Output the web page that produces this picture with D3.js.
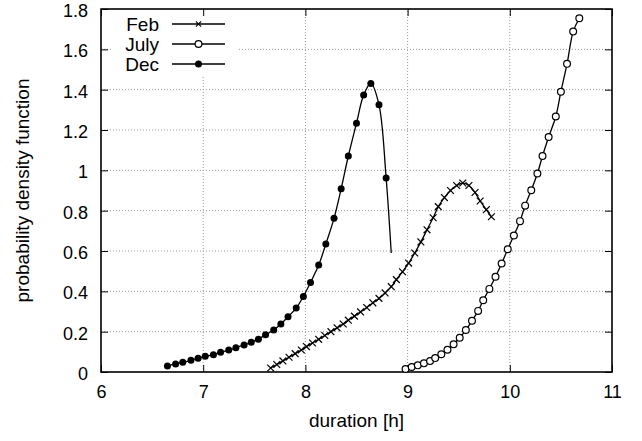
<!DOCTYPE html>
<html>
<head>
<meta charset="utf-8">
<script src="https://cdn.jsdelivr.net/npm/d3@7"></script>
<style>
  body { margin: 0; background: #fff; }
  svg { display: block; font-family: "Liberation Sans", Arial, sans-serif; }
</style>
</head>
<body>
<div id="chart"></div>
<script>
// tick values
var xTicks = [6, 7, 8, 9, 10, 11];
var yTicks = [0, 0.2, 0.4, 0.6, 0.8, 1, 1.2, 1.4, 1.6, 1.8];

// series names (legend order)
var seriesNames = ["Feb", "July", "Dec"];

// Feb (crosses)
var febH = [7.66, 7.72, 7.78, 7.84, 7.90, 7.96, 8.01, 8.07, 8.13, 8.19, 8.25, 8.31, 8.37, 8.42, 8.48, 8.54, 8.60, 8.66, 8.72,
            8.78, 8.84, 8.89, 8.95, 9.01, 9.07, 9.13, 9.19, 9.25, 9.30, 9.36, 9.42, 9.48, 9.54, 9.60, 9.66, 9.71, 9.77, 9.82];
var febV = [0.020, 0.037, 0.055, 0.073, 0.091, 0.109, 0.126, 0.144, 0.162, 0.181, 0.200, 0.219, 0.238, 0.257, 0.277, 0.298, 0.320, 0.343, 0.365,
            0.392, 0.423, 0.458, 0.497, 0.540, 0.590, 0.645, 0.705, 0.765, 0.820, 0.865, 0.900, 0.925, 0.937, 0.925, 0.890, 0.848, 0.805, 0.770];

// July (open circles)
var julH = [8.98, 9.04, 9.10, 9.16, 9.22, 9.27, 9.33, 9.39, 9.45, 9.51, 9.57, 9.63, 9.69, 9.74, 9.80,
            9.86, 9.92, 9.98, 10.04, 10.10, 10.15, 10.21, 10.27, 10.32, 10.38, 10.45, 10.50, 10.56, 10.62, 10.68];
var julV = [0.015, 0.025, 0.033, 0.043, 0.054, 0.069, 0.088, 0.110, 0.137, 0.170, 0.208, 0.254, 0.303, 0.356, 0.412,
            0.472, 0.538, 0.609, 0.677, 0.748, 0.825, 0.901, 0.984, 1.071, 1.165, 1.267, 1.390, 1.528, 1.688, 1.754];

// Dec (filled circles) + line tail without marker
var decH = [6.65, 6.73, 6.80, 6.88, 6.95, 7.02, 7.10, 7.17, 7.25, 7.32, 7.40, 7.47, 7.54, 7.61, 7.69,
            7.76, 7.83, 7.91, 7.98, 8.05, 8.13, 8.20, 8.28, 8.35, 8.42, 8.50, 8.57, 8.64, 8.72, 8.79];
var decV = [0.030, 0.040, 0.048, 0.058, 0.068, 0.078, 0.086, 0.098, 0.109, 0.120, 0.134, 0.147, 0.163, 0.185, 0.208,
            0.238, 0.274, 0.317, 0.375, 0.444, 0.530, 0.635, 0.762, 0.909, 1.071, 1.234, 1.373, 1.431, 1.325, 0.962];
var decTailH = [8.84];
var decTailV = [0.59];

var W = 642, H = 441;
var margin = {top: 9, right: 30, bottom: 69, left: 101};
var fs = 19, tickFs = 18;

var x = d3.scaleLinear().domain([6, 11]).range([margin.left, W - margin.right]);
var y = d3.scaleLinear().domain([0, 1.8]).range([H - margin.bottom, margin.top]);

var svg = d3.select("#chart").append("svg")
    .attr("width", W)
    .attr("height", H);

// grid
var grid = svg.append("g").attr("class", "grid")
    .attr("stroke", "#999").attr("stroke-width", 1).attr("stroke-dasharray", "1,2");
grid.selectAll(".gx").data(xTicks.slice(1, -1)).enter().append("line")
    .attr("x1", d => x(d)).attr("x2", d => x(d))
    .attr("y1", y(0)).attr("y2", y(1.8));
grid.selectAll(".gy").data(yTicks.slice(1, -1)).enter().append("line")
    .attr("x1", x(6)).attr("x2", x(11))
    .attr("y1", d => y(d)).attr("y2", d => y(d));

// legend background hides grid
svg.append("rect")
    .attr("x", 112).attr("y", 11)
    .attr("width", 125).attr("height", 64)
    .attr("fill", "#fff");

// axes
function fmt(d) { return String(+d.toFixed(1)); }
var tk = 7;

var gx = svg.append("g")
    .attr("transform", "translate(0," + y(0) + ")")
    .call(d3.axisBottom(x).tickValues(xTicks).tickFormat(fmt).tickSizeInner(-tk).tickSizeOuter(0).tickPadding(13));
var gy = svg.append("g")
    .attr("transform", "translate(" + x(6) + ",0)")
    .call(d3.axisLeft(y).tickValues(yTicks).tickFormat(fmt).tickSizeInner(-tk).tickSizeOuter(0).tickPadding(13));
gy.selectAll("text").attr("dy", "0.42em");
var gt = svg.append("g")
    .attr("transform", "translate(0," + y(1.8) + ")")
    .call(d3.axisTop(x).tickValues(xTicks).tickFormat("").tickSizeInner(-tk).tickSizeOuter(0));
var gr = svg.append("g")
    .attr("transform", "translate(" + x(11) + ",0)")
    .call(d3.axisRight(y).tickValues(yTicks).tickFormat("").tickSizeInner(-tk).tickSizeOuter(0));

[gx, gy, gt, gr].forEach(function(g) {
  g.select(".domain").remove();
  g.selectAll(".tick line").attr("stroke", "#000").attr("stroke-width", 1);
  g.selectAll("text").attr("font-size", tickFs).attr("fill", "#000")
    .attr("font-family", "'Liberation Sans', Arial, sans-serif");
});

// frame
svg.append("rect")
    .attr("x", x(6)).attr("y", y(1.8))
    .attr("width", x(11) - x(6)).attr("height", y(0) - y(1.8))
    .attr("fill", "none").attr("stroke", "#000").attr("stroke-width", 1.6);

// axis titles
svg.append("text")
    .attr("x", (x(6) + x(11)) / 2).attr("y", 427)
    .attr("text-anchor", "middle")
    .attr("font-size", fs)
    .text("duration [h]");
svg.append("text")
    .attr("transform", "translate(29," + ((y(0) + y(1.8)) / 2) + ")rotate(-90)")
    .attr("text-anchor", "middle")
    .attr("font-size", fs)
    .text("probability density function");

// lines
var line = d3.line()
    .x(d => x(d[0]))
    .y(d => y(d[1]))
    .curve(d3.curveCatmullRom.alpha(0.5));

var feb = d3.zip(febH, febV);
var jul = d3.zip(julH, julV);
var dec = d3.zip(decH, decV);
var decLine = dec.concat(d3.zip(decTailH, decTailV));

var plot = svg.append("g");
[feb, jul, decLine].forEach(function(s) {
  plot.append("path")
      .attr("d", line(s))
      .attr("fill", "none")
      .attr("stroke", "#000")
      .attr("stroke-width", 1.3);
});

// markers
function cross(g, cx, cy, r) {
  g.append("path")
    .attr("d", "M" + (cx - r) + "," + (cy - r) + "L" + (cx + r) + "," + (cy + r) +
               "M" + (cx - r) + "," + (cy + r) + "L" + (cx + r) + "," + (cy - r))
    .attr("stroke", "#000").attr("stroke-width", 1.2).attr("fill", "none");
}
feb.forEach(function(d) { cross(plot, x(d[0]), y(d[1]), 3.4); });

plot.selectAll(".jul").data(jul).enter().append("circle")
    .attr("cx", d => x(d[0])).attr("cy", d => y(d[1])).attr("r", 3.4)
    .attr("fill", "#fff").attr("stroke", "#000").attr("stroke-width", 1.2);

plot.selectAll(".dec").data(dec).enter().append("circle")
    .attr("cx", d => x(d[0])).attr("cy", d => y(d[1])).attr("r", 3.5)
    .attr("fill", "#000");

// legend
var legend = svg.append("g");
var rowY = [24, 44, 64];
seriesNames.forEach(function(name, i) {
  var ly = rowY[i];
  legend.append("text")
      .attr("x", 159).attr("y", ly).attr("dy", "0.35em")
      .attr("text-anchor", "end")
      .attr("font-size", fs)
      .text(name);
  legend.append("line")
      .attr("x1", 172).attr("x2", 225).attr("y1", ly).attr("y2", ly)
      .attr("stroke", "#000").attr("stroke-width", 1.3);
  if (i === 0) cross(legend, 198.5, ly, 2.6);
  if (i === 1) legend.append("circle").attr("cx", 198.5).attr("cy", ly).attr("r", 3.4)
      .attr("fill", "#fff").attr("stroke", "#000").attr("stroke-width", 1.2);
  if (i === 2) legend.append("circle").attr("cx", 198.5).attr("cy", ly).attr("r", 3.5)
      .attr("fill", "#000");
});
</script>
</body>
</html>
